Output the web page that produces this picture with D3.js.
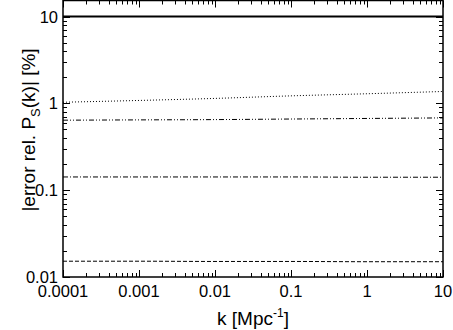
<!DOCTYPE html>
<html>
<head>
<meta charset="utf-8">
<script src="https://cdn.jsdelivr.net/npm/d3@7"></script>
<style>
  body { margin: 0; background: #fff; }
  text { font-family: "Liberation Sans", Arial, sans-serif; fill: #000; }
</style>
</head>
<body>
<svg id="chart" width="453" height="330"></svg>
<script>
// k samples (Mpc^-1)
var kValues = [0.0001, 0.001, 0.01, 0.1, 1, 10];
// relative error curves [%]
var solidErr   = [10, 10, 10, 10, 10, 10];
var dottedErr  = [1.03, 1.08, 1.14, 1.22, 1.29, 1.37];
var dashDotDotErr = [0.64, 0.645, 0.65, 0.66, 0.67, 0.68];
var dashDotErr = [0.142, 0.142, 0.142, 0.142, 0.141, 0.141];
var dashedErr  = [0.0152, 0.0152, 0.0151, 0.0151, 0.015, 0.015];
var xTickVals = [0.0001, 0.001, 0.01, 0.1, 1, 10];
var xTickLabels = ["0.0001", "0.001", "0.01", "0.1", "1", "10"];
var yTickVals = [0.01, 0.1, 1, 10];
var yTickLabels = ["0.01", "0.1", "1", "10"];

var mLeft = 63, mRight = 443, mTop = 0.5, mBottom = 277;

var svg = d3.select('#chart');
var x = d3.scaleLog().domain([0.0001, 10]).range([mLeft, mRight]);
var y = d3.scaleLog().domain([0.01, 15.3]).range([mBottom, mTop]);

var series = [
    {vals: solidErr, dash: null, width: 2},
    {vals: dottedErr, dash: "1,2", width: 1},
    {vals: dashDotDotErr, dash: "5,2,1,2,1,2", width: 1},
    {vals: dashDotErr, dash: "5,2,1,2", width: 1},
    {vals: dashedErr, dash: "4,2", width: 1}
];

var line = d3.line()
    .x(function(d) { return x(d[0]); })
    .y(function(d) { return y(d[1]); })
    .curve(d3.curveMonotoneX);

series.forEach(function(s) {
    svg.append('path')
        .datum(kValues.map(function(k, i) { return [k, s.vals[i]]; }))
        .attr('d', line)
        .attr('fill', 'none')
        .attr('stroke', '#000')
        .attr('stroke-width', s.width)
        .attr('stroke-dasharray', s.dash);
});

// minor tick values
function minors(scale) {
    var d = scale.domain(), out = [];
    for (var e = Math.floor(Math.log10(d[0])); e <= Math.ceil(Math.log10(d[1])); e++) {
        for (var m = 2; m <= 9; m++) {
            var v = m * Math.pow(10, e);
            if (v > d[0] && v < d[1]) out.push(v);
        }
    }
    return out;
}

var g = svg.append('g').attr('stroke', '#000').attr('stroke-width', 1);
var majorLen = 7, minorLen = 4;

xTickVals.forEach(function(v) {
    var px = Math.round(x(v)) + 0.5;
    g.append('line').attr('x1', px).attr('x2', px).attr('y1', mBottom).attr('y2', mBottom - majorLen);
    g.append('line').attr('x1', px).attr('x2', px).attr('y1', mTop).attr('y2', mTop + majorLen);
});
minors(x).forEach(function(v) {
    var px = Math.round(x(v)) + 0.5;
    g.append('line').attr('x1', px).attr('x2', px).attr('y1', mBottom).attr('y2', mBottom - minorLen);
    g.append('line').attr('x1', px).attr('x2', px).attr('y1', mTop).attr('y2', mTop + minorLen);
});
yTickVals.forEach(function(v) {
    var py = Math.round(y(v)) + 0.5;
    g.append('line').attr('y1', py).attr('y2', py).attr('x1', mLeft).attr('x2', mLeft + majorLen);
    g.append('line').attr('y1', py).attr('y2', py).attr('x1', mRight).attr('x2', mRight - majorLen);
});
minors(y).forEach(function(v) {
    var py = Math.round(y(v)) + 0.5;
    g.append('line').attr('y1', py).attr('y2', py).attr('x1', mLeft).attr('x2', mLeft + minorLen);
    g.append('line').attr('y1', py).attr('y2', py).attr('x1', mRight).attr('x2', mRight - minorLen);
});

svg.append('rect')
    .attr('x', mLeft).attr('y', mTop)
    .attr('width', mRight - mLeft).attr('height', mBottom - mTop)
    .attr('fill', 'none').attr('stroke', '#000').attr('stroke-width', 1.5);

// tick labels
xTickVals.forEach(function(v, i) {
    svg.append('text').attr('x', x(v)).attr('y', 297)
        .attr('text-anchor', 'middle').style('font-size', '16.5px')
        .text(xTickLabels[i]);
});
yTickVals.forEach(function(v, i) {
    svg.append('text').attr('x', 58).attr('y', y(v) + 6)
        .attr('text-anchor', 'end').style('font-size', '16.5px')
        .text(yTickLabels[i]);
});

// axis titles
var xt = svg.append('text').attr('x', 253).attr('y', 325)
    .attr('text-anchor', 'middle').style('font-size', '19px');
xt.append('tspan').text('k [Mpc');
xt.append('tspan').attr('dy', -8).style('font-size', '12px').text('-1');
xt.append('tspan').attr('dy', 8).text(']');

var yt = svg.append('text')
    .attr('transform', 'translate(35,' + 130 + ') rotate(-90)')
    .attr('text-anchor', 'middle').style('font-size', '19px');
yt.append('tspan').text('|error rel. P');
yt.append('tspan').attr('dy', 5).style('font-size', '13px').text('S');
yt.append('tspan').attr('dy', -5).text('(k)| [%]');
</script>
</body>
</html>
